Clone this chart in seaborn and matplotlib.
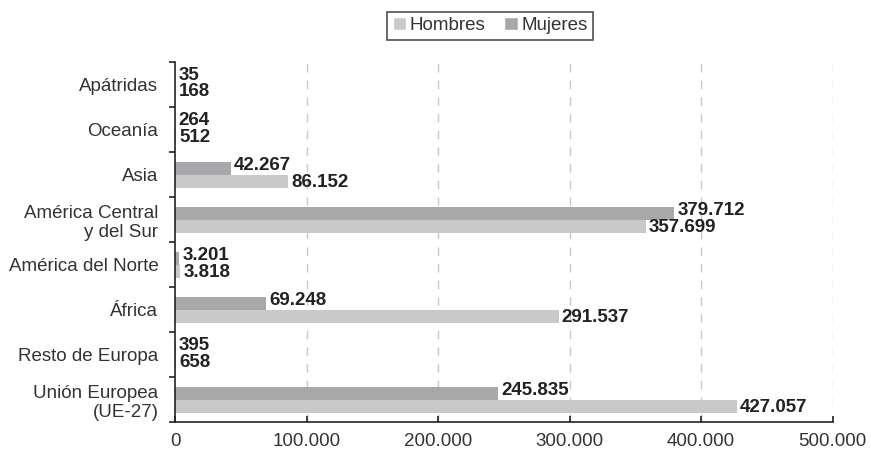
import numpy as np
import pandas as pd
import matplotlib
matplotlib.use("Agg")
import matplotlib.pyplot as plt
from matplotlib.patches import Patch
from matplotlib.ticker import FuncFormatter, FixedLocator
import seaborn as sns

sns.set_style("white")
plt.rcParams['font.family'] = ['Liberation Sans', 'DejaVu Sans']

# Datos
regiones = ['Apátridas', 'Oceanía', 'Asia', 'América Central\ny del Sur',
            'América del Norte', 'África', 'Resto de Europa',
            'Unión Europea\n(UE-27)']
hombres = [168, 512, 86152, 357699, 3818, 291537, 658, 427057]
mujeres = [35, 264, 42267, 379712, 3201, 69248, 395, 245835]

col_h = '#c9c9c9'
col_m = '#a8a8aa'

df = pd.concat([
    pd.DataFrame({'Region': regiones, 'Sexo': 'Mujeres', 'Valor': mujeres}),
    pd.DataFrame({'Region': regiones, 'Sexo': 'Hombres', 'Valor': hombres}),
])

def miles(v):
    return f"{int(round(v)):,}".replace(',', '.')

fig = plt.figure(figsize=(8.71, 4.53), dpi=100)
ax = fig.add_axes([0.201, 0.068, 0.755, 0.795])

sns.barplot(data=df, y='Region', x='Valor', hue='Sexo', order=regiones,
            hue_order=['Mujeres', 'Hombres'], palette=[col_m, col_h],
            orient='h', width=0.58, ax=ax, legend=False, saturation=1,
            linewidth=0)

# etiquetas de valor al final de cada barra
for cont, vals, dy in zip(ax.containers, [mujeres, hombres], [-0.05, 0.02]):
    for bar, v in zip(cont, vals):
        y = bar.get_y() + bar.get_height() / 2 + dy
        ax.text(bar.get_width() + 2500, y, miles(v), va='center', ha='left',
                fontsize=13.5, fontweight='bold', color='#222222')

ax.set_xlim(0, 500000)
ax.set_ylim(len(regiones) - 0.5, -0.5)
ax.xaxis.set_major_locator(FixedLocator([0, 100000, 200000, 300000, 400000, 500000]))
ax.xaxis.set_major_formatter(FuncFormatter(lambda v, p: miles(v)))
for xv in [100000, 200000, 300000, 400000, 500000]:
    ax.axvline(xv, color='#c8c8c8', linestyle=(0, (6, 6)), linewidth=1, zorder=0)

ax.set_yticks(np.arange(len(regiones)))
ax.set_yticklabels(regiones)
ax.set_yticks(np.arange(-0.5, len(regiones)), minor=True)
ax.tick_params(axis='y', which='major', left=False, length=0, pad=12,
               labelsize=13.5, labelcolor='#333333')
ax.tick_params(axis='y', which='minor', left=True, length=4, width=1.2,
               direction='out', color='#222222')
ax.tick_params(axis='x', which='major', bottom=True, length=4, width=1.2,
               direction='in', pad=8, labelsize=13.5, labelcolor='#333333',
               color='#222222')
for lab in ax.get_yticklabels():
    lab.set_horizontalalignment('right')
    lab.set_multialignment('right')

ax.set_xlabel('')
ax.set_ylabel('')
for s in ['top', 'right']:
    ax.spines[s].set_visible(False)
for s in ['left', 'bottom']:
    ax.spines[s].set_color('#222222')
    ax.spines[s].set_linewidth(1.2)

handles = [Patch(facecolor=col_h, label='Hombres'), Patch(facecolor=col_m, label='Mujeres')]
leg = fig.legend(handles=handles, loc='upper center', bbox_to_anchor=(0.563, 0.995), ncol=2,
                 frameon=True, fancybox=False, fontsize=13.5, handlelength=0.7,
                 handleheight=0.7, handletextpad=0.2, columnspacing=1.0,
                 borderpad=0.3, edgecolor='#222222')
leg.get_frame().set_linewidth(1.2)
for t in leg.get_texts():
    t.set_color('#333333')

fig.savefig('out.png', dpi=100)
